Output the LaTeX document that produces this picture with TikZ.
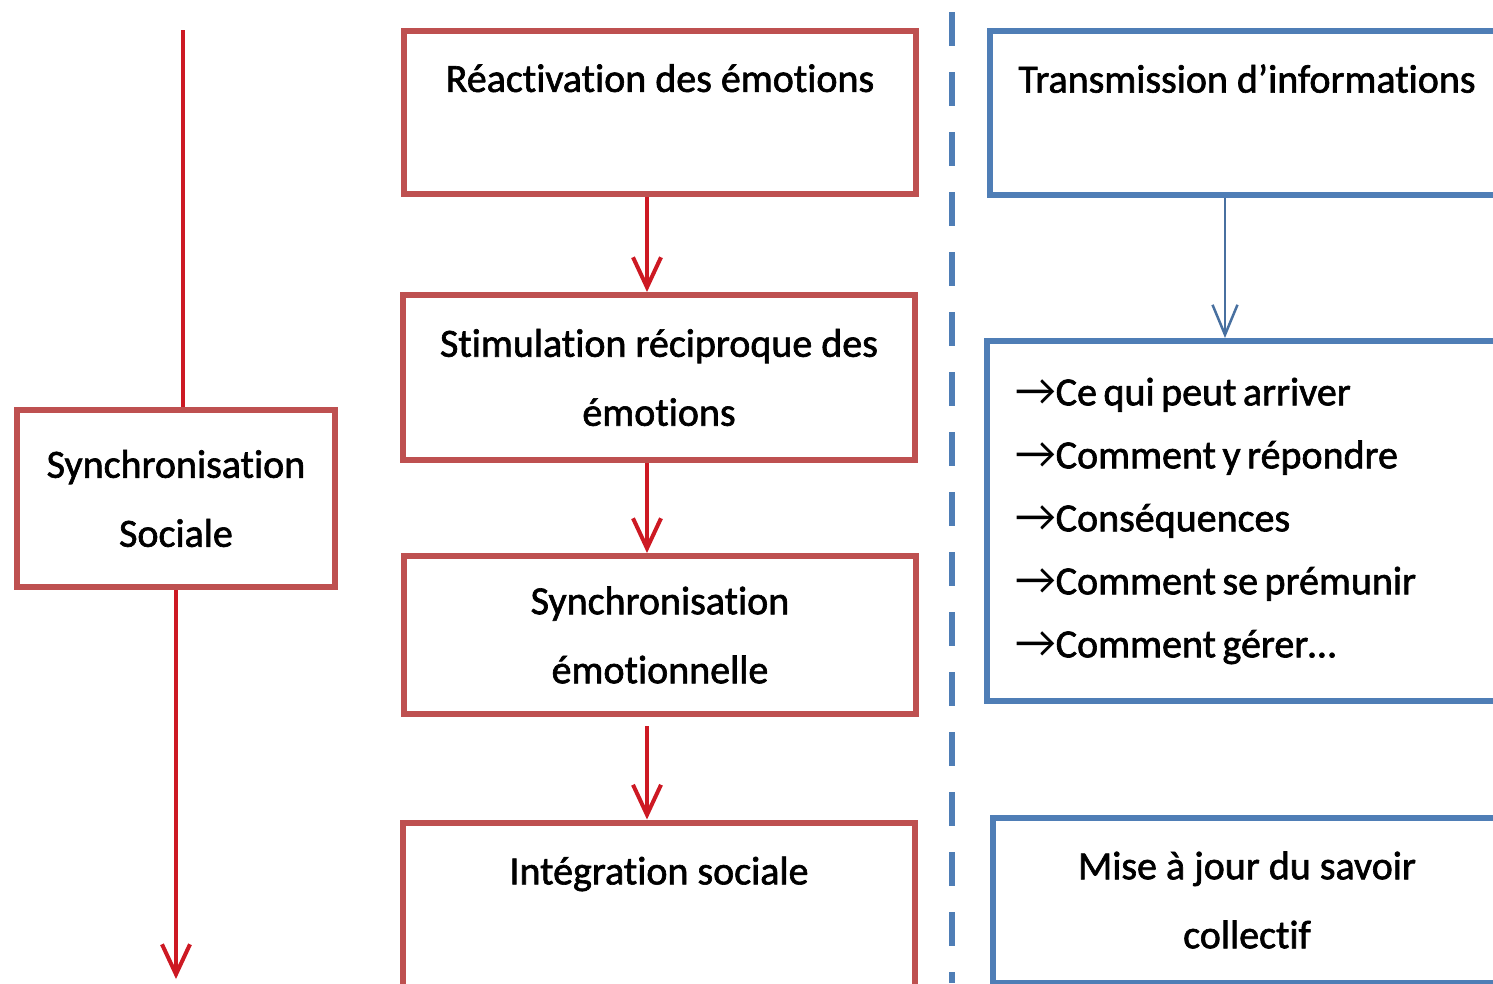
\documentclass[tikz,border=0pt]{standalone}
\usepackage{fontspec}
\setmainfont{Carlito}[Ligatures=NoCommon, FakeBold=1.6, BoldFont=Carlito]
\newfontfamily\arrowfont{Carlito}
\usepackage{xcolor}
\usetikzlibrary{arrows.meta}
\definecolor{boxred}{RGB}{190,80,80}
\definecolor{boxblue}{RGB}{79,126,182}
\definecolor{arrred}{RGB}{205,25,35}
\definecolor{arrblue}{RGB}{72,112,160}
\newcommand{\itemarrow}{{\arrowfont\mdseries\fontsize{45}{63}\selectfont →}}
\newcommand{\boxfont}{\fontsize{40}{69}\selectfont\bfseries}
\newcommand{\listfont}{\fontsize{40}{63}\selectfont\bfseries}
\newcommand{\tightspaces}{\spaceskip=6.5pt plus 1pt\relax}

\begin{document}
\begin{tikzpicture}[x=1pt, y=-1pt,
  redbox/.style={draw=boxred, line width=6pt, minimum width=512pt, align=center, inner sep=0pt, font=\boxfont},
  bluebox/.style={draw=boxblue, line width=6pt, minimum width=514pt, align=center, inner sep=0pt, font=\boxfont},
  redarrow/.style={-{Straight Barb[length=30pt,width=28pt]}, line width=4pt, arrred},
  bluearrow/.style={-{Straight Barb[length=30pt,width=25pt]}, line width=2.5pt, arrblue},
  divider/.style={boxblue, line width=6pt, dash pattern=on 34pt off 26pt, dash phase=-12pt}
]
  \useasboundingbox (0,0) rectangle (1493,983);
  \clip (0,0) rectangle (1493,983);

  \node[redbox, minimum width=318pt, minimum height=177pt] (social) at (176,498.5) {Synchronisation\\Sociale};
  \coordinate (socialtop) at (183,30);
  \coordinate (socialend) at (176,979);

  \node[redbox, minimum height=163pt] (reactiv) at (660,112.5) {Réactivation des émotions\\\mbox{}};
  \node[redbox, minimum height=165pt] (stimul) at (659,377.5) {Stimulation réciproque des\\émotions};
  \node[redbox, minimum height=158pt] (synchro) at (660,635) {Synchronisation\\émotionnelle};
  \node[redbox, minimum height=165pt] (integr) at (659,905) {Intégration sociale\\\mbox{}};

  \coordinate (divtop) at (952,0);
  \coordinate (divbot) at (952,983);
  \draw[divider] (divtop) -- (divbot);

  \node[bluebox, minimum height=164pt] (transm) at (1247,113) {Transmission d’informations\\\mbox{}};
  \node[bluebox, minimum height=360pt, text width=458pt, align=left, font=\listfont] (liste) at (1244,521)
    {\tightspaces\itemarrow Ce qui peut arriver\\\itemarrow Comment y répondre\\\itemarrow Conséquences\\\itemarrow Comment se prémunir\\\itemarrow Comment gérer…};
  \node[bluebox, minimum width=508pt, minimum height=165pt] (savoir) at (1247,900) {Mise à jour du savoir\\collectif};

  \draw[line width=4pt, arrred] (socialtop) -- ([xshift=7pt]social.north);
  \draw[redarrow] (social.south) -- (socialend);
  \draw[redarrow] ([xshift=-13pt]reactiv.south) -- ([xshift=-12pt]stimul.north);
  \draw[redarrow] ([xshift=-12pt]stimul.south) -- ([xshift=-13pt]synchro.north);
  \draw[redarrow, shorten <=9pt] ([xshift=-13pt]synchro.south) -- ([xshift=-12pt]integr.north);
  \draw[bluearrow] ([xshift=-22pt]transm.south) -- ([xshift=-19pt]liste.north);
\end{tikzpicture}
\end{document}
